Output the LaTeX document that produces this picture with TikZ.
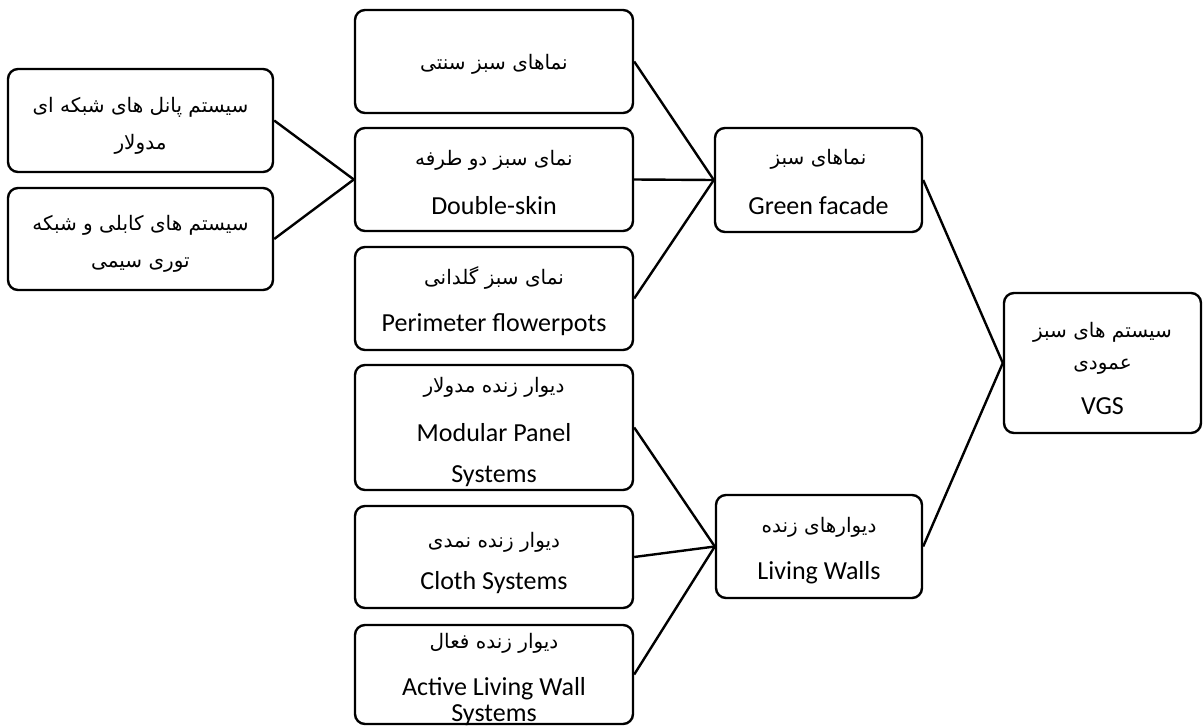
\documentclass[tikz,border=0pt]{standalone}
\usepackage{fontspec}
\setmainfont{Carlito}
\newfontfamily\fafont[Script=Arabic]{DejaVu Sans}
\TeXXeTstate=1
\begin{document}
\begin{tikzpicture}[x=1pt,y=-1pt,
  box/.style={draw, line width=2.4pt, rounded corners=10pt, inner sep=0pt},
  link/.style={line width=2.4pt},
  fa/.style={anchor=base, inner sep=0pt, font=\fafont\fontsize{20}{24}\selectfont},
  en/.style={anchor=base, inner sep=0pt, font=\fontsize{26}{30}\selectfont}]
\useasboundingbox (0,0) rectangle (1203,726);
% boxes
\node[box, minimum width=265pt, minimum height=103pt] (L1) at (140.5,120.5) {};
\node[box, minimum width=265pt, minimum height=102pt] (L2) at (140.5,239) {};
\node[box, minimum width=278pt, minimum height=103pt] (M1) at (494,61.5) {};
\node[box, minimum width=278pt, minimum height=103pt] (M2) at (494,179.5) {};
\node[box, minimum width=278pt, minimum height=103pt] (M3) at (494,298.5) {};
\node[box, minimum width=278pt, minimum height=125pt] (M4) at (494,427.5) {};
\node[box, minimum width=278pt, minimum height=102pt] (M5) at (494,557) {};
\node[box, minimum width=278pt, minimum height=99pt] (M6) at (494,674.5) {};
\node[box, minimum width=207pt, minimum height=104pt] (GF) at (818.5,180) {};
\node[box, minimum width=206pt, minimum height=103pt] (LW) at (819,546.5) {};
\node[box, minimum width=197pt, minimum height=140pt] (VGS) at (1102.5,363) {};
% texts
\node[fa] (tL1a) at (140.5,112) {\beginR سیستم پانل های شبکه ای\endR};
\node[fa] (tL1b) at (140.5,149) {\beginR مدولار\endR};
\node[fa] (tL2a) at (140.5,230) {\beginR سیستم های کابلی و شبکه\endR};
\node[fa] (tL2b) at (140.5,267) {\beginR توری سیمی\endR};
\node[fa] (tM1) at (494,69) {\beginR نماهای سبز سنتی\endR};
\node[fa] (tM2a) at (494,165) {\beginR نمای سبز دو طرفه\endR};
\node[en] (tM2b) at (494,214) {Double-skin};
\node[fa] (tM3a) at (494,284) {\beginR نمای سبز گلدانی\endR};
\node[en] (tM3b) at (494,331) {Perimeter flowerpots};
\node[fa] (tM4a) at (494,392) {\beginR دیوار زنده مدولار\endR};
\node[en] (tM4b) at (494,441) {Modular Panel};
\node[en] (tM4c) at (494,482) {Systems};
\node[fa] (tM5a) at (494,547) {\beginR دیوار زنده نمدی\endR};
\node[en] (tM5b) at (494,589) {Cloth Systems};
\node[fa] (tM6a) at (494,648) {\beginR دیوار زنده فعال\endR};
\node[en] (tM6b) at (494,695) {Active Living Wall};
\node[en] (tM6c) at (494,721) {Systems};
\node[fa] (tGFa) at (818.5,164) {\beginR نماهای سبز\endR};
\node[en] (tGFb) at (818.5,214) {Green facade};
\node[fa] (tLWa) at (819,532) {\beginR دیوارهای زنده\endR};
\node[en] (tLWb) at (819,579) {Living Walls};
\node[fa] (tVa) at (1102.5,337) {\beginR سیستم های سبز\endR};
\node[fa] (tVb) at (1102.5,369) {\beginR عمودی\endR};
\node[en] (tVc) at (1102.5,414) {VGS};
% connectors
\draw[link] (L1.east) -- (M2.west);
\draw[link] (L2.east) -- (M2.west);
\draw[link] (M1.east) -- (GF.west);
\draw[link] (M2.east) -- (GF.west);
\draw[link] (M3.east) -- (GF.west);
\draw[link] (M4.east) -- (LW.west);
\draw[link] (M5.east) -- (LW.west);
\draw[link] (M6.east) -- (LW.west);
\draw[link] (GF.east) -- (VGS.west);
\draw[link] (LW.east) -- (VGS.west);
\end{tikzpicture}
\end{document}
